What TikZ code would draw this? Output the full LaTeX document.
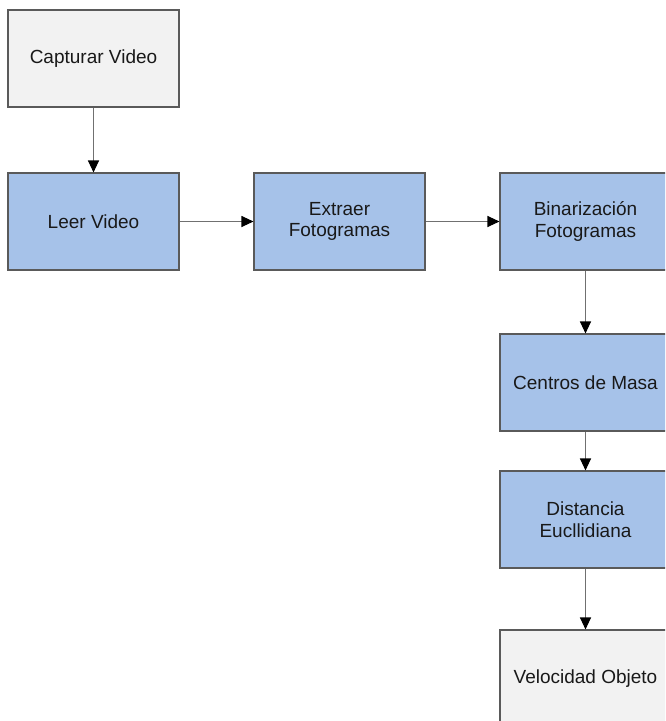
\documentclass[tikz,border=0pt]{standalone}
\usepackage{fontspec}
\setmainfont{Liberation Sans}
\usetikzlibrary{arrows.meta}
\definecolor{procblue}{HTML}{A6C2E9}
\definecolor{termgray}{HTML}{F2F2F2}
\definecolor{edgegray}{HTML}{5A5A5A}
\definecolor{linkgray}{HTML}{707070}
\tikzset{
  box/.style={draw=edgegray, line width=1.1pt, minimum width=171pt, minimum height=97pt,
    inner sep=0pt, align=center, font=\fontsize{19pt}{21.5pt}\selectfont, text=black!90},
  procbox/.style={box, fill=procblue},
  termbox/.style={box, fill=termgray},
  link/.style={draw=linkgray, line width=1.1pt,
    -{Triangle[length=12pt,width=11pt,fill=black,color=black]}}
}
\begin{document}
\begin{tikzpicture}[x=1pt,y=-1pt]
  \useasboundingbox (0,0) rectangle (665,721);
  \clip (0,0) rectangle (665,721);
  \fill[white] (0,0) rectangle (665,721);
  % process chain
  \node[termbox] (cap)  at (93.5,58.5)  {Capturar Video};
  \node[procbox] (leer) at (93.5,221.5) {Leer Video};
  \node[procbox] (ext)  at (339.5,221.5) {Extraer\\Fotogramas};
  \node[procbox] (bin)  at (585.5,221.5) {Binarización\\Fotogramas};
  \node[procbox] (cm)   at (585.5,382.5) {Centros de Masa};
  \node[procbox] (dist) at (585.5,519.5) {Distancia\\Eucllidiana};
  \node[termbox] (vel)  at (585.5,678.5) {Velocidad Objeto};
  % connectors
  \draw[link] (cap) -- (leer);
  \draw[link] (leer) -- (ext);
  \draw[link] (ext) -- (bin);
  \draw[link] (bin) -- (cm);
  \draw[link] (cm) -- (dist);
  \draw[link] (dist) -- (vel);
\end{tikzpicture}
\end{document}
